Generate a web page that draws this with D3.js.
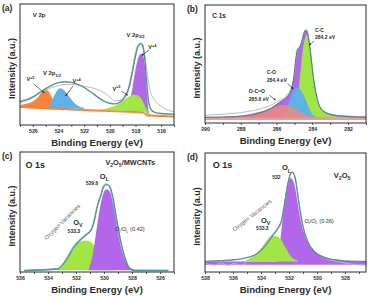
<!DOCTYPE html>
<html>
<head>
<meta charset="utf-8">
<script src="https://cdn.jsdelivr.net/npm/d3@7"></script>
<style>
  body { margin: 0; background: #fff; }
  svg { display: block; font-family: 'Liberation Sans', Arial, sans-serif; }
</style>
</head>
<body>
<svg id="chart" width="368" height="297"></svg>
<script>
const svg = d3.select('#chart')

// --------------------------------------------------------------
// Data (binding energy in eV, intensity in arbitrary units 0-100)

// (a) V 2p
const v2pTicks = [526, 524, 522, 520, 518, 516]
// [energy, low, high]
const v2pOrange = [
  [527, 14, 16.5], [526.5, 13.8, 17.5], [526, 13.5, 19.5], [525.6, 13.3, 23],
  [525.3, 13.1, 27], [525.05, 13, 29.5], [524.8, 12.9, 28], [524.55, 12.7, 23.5],
  [524.3, 12.6, 18.5], [524, 12.4, 15.5], [523.5, 12.2, 14.3], [523, 12, 13.8],
  [522, 11.6, 13.2], [521, 11.2, 12.8], [520, 10.8, 12.4], [519, 10.4, 12],
  [518, 10, 11.6], [517.4, 9.6, 11.2], [517.1, 7, 8.8], [516, 6.6, 8.2], [515, 6.2, 7.8],
]
const v2pBlue = [
  [524.8, 14.3, 14.5], [524.6, 14.2, 18], [524.35, 14.1, 24], [524.1, 14, 28.5],
  [523.85, 13.9, 30.3], [523.6, 13.8, 29], [523.3, 13.7, 25.5], [523, 13.6, 21],
  [522.7, 13.5, 17.5], [522.4, 13.4, 15.5], [522, 13.2, 14],
]
const v2pPurple = [
  [518.8, 11.8, 12], [518.5, 11.7, 18], [518.25, 11.6, 30], [518.05, 11.5, 43],
  [517.85, 11.5, 53], [517.65, 11.4, 58.5], [517.5, 11.3, 59], [517.35, 11.2, 55],
  [517.2, 10.5, 42], [517.1, 8.8, 25], [517, 8.6, 13], [516.9, 8.5, 9],
]
const v2pGreen = [
  [520.8, 12.3, 12.6], [520.3, 12.2, 13.5], [519.8, 12, 15], [519.3, 11.9, 17.5],
  [518.9, 11.8, 20.5], [518.5, 11.7, 23.5], [518.2, 11.6, 25], [517.9, 11.5, 24.8],
  [517.6, 11.4, 22.5], [517.35, 11.2, 18], [517.15, 9.5, 13], [516.95, 8.6, 10],
  [516.7, 8.5, 8.8],
]
// [energy, intensity]
const v2pRaw = [
  [527, 20], [526.5, 21.5], [526, 23.5], [525.5, 26], [525, 28.5], [524.5, 31],
  [524, 32.5], [523.5, 33.5], [523, 33.5], [522.5, 33], [522, 32], [521.5, 31],
  [521, 29.5], [520.5, 27], [520, 23], [519.6, 20], [519.2, 20.5], [518.8, 25],
  [518.5, 33], [518.25, 46], [518, 60], [517.8, 66], [517.6, 66.5], [517.4, 63],
  [517.2, 52], [517.05, 40], [516.9, 30], [516.6, 22], [516.2, 17], [515.8, 14],
  [515.4, 12], [515, 11],
]
const v2pEnvelope = [
  [527, 19], [526.5, 20.5], [526, 23], [525.5, 26.5], [525, 30], [524.5, 33],
  [524, 35], [523.5, 35.8], [523, 35.2], [522.5, 33.5], [522, 31], [521.5, 27.5],
  [521, 23.5], [520.5, 20], [520, 18], [519.6, 17.5], [519.2, 19], [518.8, 23.5],
  [518.5, 31], [518.25, 43], [518, 57], [517.8, 65], [517.6, 67.5], [517.45, 66],
  [517.3, 57], [517.15, 38], [517, 21], [516.8, 13], [516.5, 10.5], [516, 9.5], [515, 9],
]

// (b) C 1s
const c1sTicks = [290, 288, 286, 284, 282]
const c1sEnvelope = [
  [290, 4.8], [289, 5.1], [288.4, 5.4], [287.45, 6.8], [286.9, 8.8], [286.5, 11],
  [286.1, 14.4], [285.77, 18.1], [285.4, 22.3], [285.18, 28], [285.03, 39.3],
  [284.93, 53.4], [284.84, 61.9], [284.75, 63.3], [284.62, 67.5], [284.5, 74.6],
  [284.41, 78.2], [284.32, 78.2], [284.23, 73.1], [284.1, 59], [283.95, 39.2],
  [283.8, 25.2], [283.63, 15.3], [283.35, 9.6], [282.8, 6.8], [281.86, 5.4], [281, 4.8],
]
const c1sPurple = c1sEnvelope.map((d) => [d[0], 4.5, d[1]])
const c1sGreen = [
  [285.1, 4.5, 5], [284.9, 4.5, 12], [284.75, 4.5, 30], [284.62, 4.5, 50],
  [284.5, 4.5, 65], [284.4, 4.5, 72.5], [284.3, 4.5, 75], [284.2, 4.5, 71],
  [284.07, 4.5, 57], [283.92, 4.5, 39], [283.77, 4.5, 25], [283.6, 4.5, 15.5],
  [283.35, 4.5, 9.5], [283, 4.5, 6.5], [282.5, 4.5, 5.2], [282, 4.5, 4.8],
]
const c1sBlue = [
  [285.8, 4.5, 5], [285.6, 4.5, 8], [285.4, 4.5, 14], [285.2, 4.5, 22],
  [285.03, 4.5, 28.5], [284.88, 4.5, 30.2], [284.7, 4.5, 28.5], [284.5, 4.5, 24],
  [284.3, 4.5, 17], [284.1, 4.5, 10], [283.9, 4.5, 6], [283.7, 4.5, 4.8],
]
const c1sPink = [
  [290, 2.5, 5], [289, 2.5, 5.2], [288.4, 2.5, 5.8], [287.85, 2.5, 6.8],
  [287.3, 2.5, 8.2], [286.7, 2.5, 10.5], [286.3, 2.5, 12.5], [285.95, 2.5, 14.5],
  [285.6, 2.5, 15.3], [285.2, 2.5, 14], [284.84, 2.5, 11], [284.47, 2.5, 7.5],
  [284.1, 2.5, 5.5], [283.7, 2.5, 4.8], [283, 2.5, 4.6], [282, 2.5, 4.5], [281, 2.5, 4.5],
]
const c1sRaw = [
  [290, 6.5], [289.5, 7], [289, 7.3], [288.5, 8], [288, 8.8], [287.5, 10],
  [287, 11.5], [286.6, 13.5], [286.2, 16], [285.8, 19.5], [285.4, 24], [285.15, 31],
  [285, 42], [284.9, 55], [284.8, 62], [284.7, 65], [284.58, 69.5], [284.47, 76],
  [284.38, 79], [284.3, 78.5], [284.2, 72], [284.07, 57], [283.93, 38], [283.78, 24],
  [283.6, 14.5], [283.3, 9.5], [282.8, 7], [282, 5.8], [281, 5.5],
]

// (c) O 1s, V2O5/MWCNTs
const o1sCompTicks = [536, 534, 532, 530, 528, 526]
const o1sCompPurple = [
  [531.1, 1.5, 2], [530.85, 1.5, 12], [530.65, 1.5, 26], [530.45, 1.5, 42],
  [530.25, 1.5, 56], [530.05, 1.5, 65.5], [529.8, 1.5, 69], [529.55, 1.5, 66],
  [529.35, 1.5, 57], [529.15, 1.5, 44], [528.95, 1.5, 30], [528.7, 1.5, 17],
  [528.4, 1.5, 7.5], [528.1, 1.5, 3], [527.8, 1.5, 1.8],
]
const o1sCompGreen = [
  [533.3, 1.5, 2], [533, 1.5, 5], [532.7, 1.5, 10], [532.4, 1.5, 16],
  [532.1, 1.5, 21], [531.8, 1.5, 24.5], [531.5, 1.5, 26], [531.2, 1.5, 26],
  [530.9, 1.5, 24.5], [530.6, 1.5, 20], [530.3, 1.5, 13], [530, 1.5, 7],
  [529.6, 1.5, 3], [529.2, 1.5, 1.8],
]
const o1sCompEnvelope = [
  [535.7, 1.1], [533.3, 2.5], [533, 5.5], [532.6, 11.7], [532.2, 20], [531.7, 26.5],
  [531.3, 30.6], [530.9, 35.3], [530.7, 42.2], [530.5, 53.3], [530.2, 64.4],
  [530, 71.4], [529.8, 72.8], [529.6, 71.4], [529.35, 61.7], [529.15, 47.8],
  [528.85, 28.3], [528.5, 11.7], [528.2, 3.3], [527.8, 1.1], [525.4, 1.1],
]
const o1sCompRaw = [
  [535.7, 1.6], [533.3, 3], [533.1, 4.5], [532.6, 13], [532.2, 21], [531.7, 27.5],
  [531.3, 31.5], [530.9, 36.5], [530.7, 44], [530.5, 55], [530.2, 66], [530.05, 72],
  [529.85, 73.5], [529.65, 71.5], [529.4, 61], [529.2, 48], [528.9, 29], [528.5, 12.5],
  [528.2, 4], [527.8, 1.8], [525.4, 1.6],
]

// (d) O 1s, V2O5
const o1sTicks = [538, 536, 534, 532, 530, 528]
const o1sPurple = [
  [538, 6.1, 8.9], [535, 6.1, 8.9], [533, 6.1, 8.9], [532.77, 6.1, 9],
  [532.65, 6.1, 22.8], [532.48, 6.1, 42.2], [532.29, 6.1, 61.7], [532.12, 6.1, 74.2],
  [531.93, 6.1, 78.9], [531.76, 6.1, 77.8], [531.57, 6.1, 71.4], [531.38, 6.1, 57.5],
  [531.17, 6.1, 43.6], [530.93, 6.1, 32.5], [530.62, 6.1, 24.2], [530.14, 6.1, 17.2],
  [529.55, 6.1, 13.1], [528.6, 6.1, 10.3], [527.5, 6.1, 9.2], [526.5, 6.1, 8.9],
]
const o1sGreen = [
  [535.1, 8.9, 9.5], [534.6, 8.9, 13.1], [534.24, 8.9, 16.7], [533.88, 8.9, 21.4],
  [533.52, 8.9, 27], [533.24, 8.9, 30], [533, 8.9, 30.5], [532.77, 8.9, 29.5],
  [532.53, 8.9, 26.5], [532.22, 8.9, 20], [531.86, 8.9, 13.1], [531.38, 8.9, 9.6],
]
const o1sEnvelope = [
  [538, 8.9], [535.9, 10.3], [534.96, 12.2], [534.24, 15.8], [533.64, 22.8],
  [533.17, 30.6], [532.8, 36.7], [532.53, 43.6], [532.34, 56.1], [532.1, 72.8],
  [531.9, 82.5], [531.74, 83.9], [531.55, 78.3], [531.31, 58.9], [531.03, 39.4],
  [530.67, 25.6], [530.19, 17.2], [529.48, 12.2], [528.05, 9.4], [526.5, 8.9],
]
const o1sRaw = [
  [538, 7.5], [537.33, 5.6], [536.86, 7.8], [536.38, 5.3], [535.9, 7.2], [535.43, 5.6],
  [534.96, 8.9], [534.48, 12.8], [534, 18.6], [533.64, 25.6], [533.29, 30.6],
  [532.93, 33.9], [532.57, 40.8], [532.34, 54.7], [532.1, 72.2], [531.9, 81.7],
  [531.72, 83.3], [531.53, 77.8], [531.26, 57.5], [530.98, 38.1], [530.62, 24.7],
  [530.14, 16.7], [529.48, 11.7], [528.6, 8.9], [527.6, 6.7], [526.5, 5.6],
]

// --------------------------------------------------------------
// Colours
const orange = '#f7833d'
const blue = '#5fb1ea'
const green = '#a0e743'
const purple = '#b267ea'
const pink = '#ec8a84'
const envColor = '#4f9593'
const rawColor = '#bcbcbc'
const ink = '#2b2b2b'

// --------------------------------------------------------------
// Panel frame, axis and labels
const drawPanel = function ({ id, box, domain, ticks, letter, yText }) {
  const x = d3.scaleLinear().domain(domain).range([box.left, box.right])
  const y = d3.scaleLinear().domain([0, 100]).range([box.bottom, box.top])
  const g = svg.append('g').attr('class', 'panel-' + id)

  svg
    .append('clipPath')
    .attr('id', 'clip-' + id)
    .append('rect')
    .attr('x', box.left)
    .attr('y', box.top)
    .attr('width', box.right - box.left)
    .attr('height', box.bottom - box.top)

  const plot = g.append('g').attr('clip-path', 'url(#clip-' + id + ')')

  // every 1 eV a small tick, labels at the listed values
  const lo = Math.ceil(Math.min(...domain))
  const hi = Math.floor(Math.max(...domain))
  const minor = d3.range(lo, hi + 1)

  const axis = g
    .append('g')
    .attr('transform', 'translate(0,' + box.bottom + ')')
    .call(
      d3
        .axisBottom(x)
        .tickValues(minor)
        .tickSize(2)
        .tickPadding(2)
        .tickFormat((d) => (ticks.includes(d) ? d : ''))
    )
  axis.select('.domain').remove()
  axis.selectAll('line').attr('stroke', ink).attr('stroke-width', 0.8)
  axis
    .selectAll('text')
    .attr('font-size', 5.2)
    .attr('font-weight', 'bold')
    .attr('fill', ink)

  g.append('text')
    .attr('x', (box.left + box.right) / 2)
    .attr('y', box.bottom + 20.5)
    .attr('text-anchor', 'middle')
    .attr('font-size', 9.6)
    .attr('font-weight', 'bold')
    .attr('fill', ink)
    .text('Binding Energy (eV)')

  g.append('text')
    .attr(
      'transform',
      'translate(' + (box.left - 5.5) + ',' + ((box.top + box.bottom) / 2 + 4) + ') rotate(-90)'
    )
    .attr('text-anchor', 'middle')
    .attr('font-size', 9)
    .attr('font-weight', 'bold')
    .attr('fill', ink)
    .text(yText)

  g.append('text')
    .attr('x', box.left - 18)
    .attr('y', box.top + 7)
    .attr('font-size', 8.5)
    .attr('font-weight', 'bold')
    .attr('fill', ink)
    .text(letter)

  return { g, plot, x, y, box }
}

const drawAreas = function (p, list) {
  const area = d3
    .area()
    .x((d) => p.x(d[0]))
    .y0((d) => p.y(d[1]))
    .y1((d) => p.y(d[2]))
    .curve(d3.curveMonotoneX)
  list.forEach(({ data, fill, opacity = 1 }) => {
    p.plot
      .append('path')
      .datum(data)
      .attr('d', area)
      .attr('fill', fill)
      .attr('fill-opacity', opacity)
  })
}

const drawLine = function (p, data, stroke, width) {
  const line = d3
    .line()
    .x((d) => p.x(d[0]))
    .y((d) => p.y(d[1]))
    .curve(d3.curveMonotoneX)
  p.plot
    .append('path')
    .datum(data)
    .attr('d', line)
    .attr('fill', 'none')
    .attr('stroke', stroke)
    .attr('stroke-width', width)
}

const drawFrame = function (p) {
  p.g
    .append('rect')
    .attr('x', p.box.left)
    .attr('y', p.box.top)
    .attr('width', p.box.right - p.box.left)
    .attr('height', p.box.bottom - p.box.top)
    .attr('fill', 'none')
    .attr('stroke', ink)
    .attr('stroke-width', 1)
}

// text with sub / superscripts: parts = [[text, 'sub' | 'sup' | '']]
const label = function (p, e, v, parts, { size = 5.5, weight = 'bold', fill = ink, rotate = 0 } = {}) {
  const t = p.g
    .append('text')
    .attr('transform', 'translate(' + p.x(e) + ',' + p.y(v) + ') rotate(' + rotate + ')')
    .attr('font-size', size)
    .attr('font-weight', weight)
    .attr('fill', fill)
  let shift = 0
  parts.forEach(([txt, kind]) => {
    const target = kind === 'sub' ? size * 0.3 : kind === 'sup' ? -size * 0.4 : 0
    t.append('tspan')
      .attr('dy', target - shift)
      .attr('font-size', kind ? size * 0.7 : size)
      .text(txt)
    shift = target
  })
  return t
}

const arrow = function (p, e1, v1, e2, v2) {
  const x1 = p.x(e1)
  const y1 = p.y(v1)
  const x2 = p.x(e2)
  const y2 = p.y(v2)
  const a = Math.atan2(y2 - y1, x2 - x1)
  const h = 2.2
  p.g
    .append('line')
    .attr('x1', x1)
    .attr('y1', y1)
    .attr('x2', x2)
    .attr('y2', y2)
    .attr('stroke', '#111')
    .attr('stroke-width', 0.6)
  p.g
    .append('path')
    .attr(
      'd',
      'M' + x2 + ',' + y2 +
        'L' + (x2 - h * Math.cos(a - 0.45)) + ',' + (y2 - h * Math.sin(a - 0.45)) +
        'L' + (x2 - h * Math.cos(a + 0.45)) + ',' + (y2 - h * Math.sin(a + 0.45)) + 'Z'
    )
    .attr('fill', '#111')
}

// --------------------------------------------------------------
// (a) V 2p
const pa = drawPanel({
  id: 'a',
  box: { left: 20, right: 174, top: 4, bottom: 125 },
  domain: [527, 515],
  ticks: v2pTicks,
  letter: '(a)',
  yText: 'Intensity (a.u.)',
})
drawAreas(pa, [
  { data: v2pOrange, fill: orange },
  { data: v2pBlue, fill: blue },
  { data: v2pPurple, fill: purple },
  { data: v2pGreen, fill: green },
])
drawLine(pa, v2pRaw, rawColor, 1)
drawLine(pa, v2pEnvelope, envColor, 1.4)
drawFrame(pa)
label(pa, 526, 89, [['V 2p', '']], { size: 6 })
label(pa, 518.7, 73, [['V 2p', ''], ['3/2', 'sub']], { size: 5.8 })
label(pa, 517, 62.5, [['V', ''], ['+4', 'sup']], { size: 5.5 })
arrow(pa, 516.95, 62, 517.5, 57.5)
label(pa, 525.2, 41, [['V 2p', ''], ['1/2', 'sub']], { size: 5.8 })
label(pa, 526.5, 36, [['V', ''], ['+5', 'sup']], { size: 5.5 })
arrow(pa, 525.95, 34, 525.1, 26.5)
label(pa, 522.9, 34.5, [['V', ''], ['+4', 'sup']], { size: 5.5 })
arrow(pa, 522.85, 32.5, 523.45, 24)
label(pa, 519.8, 28.5, [['V', ''], ['+5', 'sup']], { size: 5.5 })
arrow(pa, 519.1, 28, 518.6, 24.5)

// --------------------------------------------------------------
// (b) C 1s
const pb = drawPanel({
  id: 'b',
  box: { left: 205, right: 366, top: 5, bottom: 123 },
  domain: [290, 281],
  ticks: c1sTicks,
  letter: '(b)',
  yText: 'Intensity (a.u.)',
})
drawAreas(pb, [
  { data: c1sPurple, fill: purple },
  { data: c1sGreen, fill: green },
  { data: c1sBlue, fill: blue },
  { data: c1sPink, fill: pink, opacity: 0.85 },
])
drawLine(pb, c1sRaw, rawColor, 1)
drawLine(pb, c1sEnvelope, '#557f8c', 1.1)
drawFrame(pb)
label(pb, 289.6, 89, [['C 1s', '']], { size: 6.5 })
label(pb, 283.85, 77.5, [['C-C', '']], { size: 5 })
label(pb, 283.85, 71, [['284.2 eV', '']], { size: 5 })
arrow(pb, 283.9, 69.5, 284.18, 66)
label(pb, 286.55, 41.5, [['C-O', '']], { size: 5 })
label(pb, 286.55, 35, [['284.4 eV', '']], { size: 5 })
arrow(pb, 285.38, 33.5, 285.06, 28.8)
label(pb, 287.55, 25.5, [['O-C=O', '']], { size: 5 })
label(pb, 287.55, 19, [['285.6 eV', '']], { size: 5 })
arrow(pb, 286.4, 23.5, 286.05, 19.2)

// --------------------------------------------------------------
// (c) O 1s, V2O5/MWCNTs
const pc = drawPanel({
  id: 'c',
  box: { left: 20, right: 174, top: 152, bottom: 272 },
  domain: [536, 525],
  ticks: o1sCompTicks,
  letter: '(c)',
  yText: 'Intensity (a.u.)',
})
drawAreas(pc, [
  { data: o1sCompGreen, fill: green },
  { data: o1sCompPurple, fill: purple },
])
drawLine(pc, o1sCompRaw, '#8fb9b8', 1)
drawLine(pc, o1sCompEnvelope, envColor, 1.3)
drawFrame(pc)
label(pc, 535.6, 87, [['O 1s', '']], { size: 9 })
label(pc, 529.9, 89, [['V', ''], ['2', 'sub'], ['O', ''], ['5', 'sub'], ['/MWCNTs', '']], { size: 7.3 })
label(pc, 530.3, 77.5, [['O', ''], ['L', 'sub']], { size: 7.5 })
label(pc, 531.3, 72.5, [['529.6', '']], { size: 5 })
label(pc, 532.2, 39, [['O', ''], ['V', 'sub']], { size: 7.5 })
label(pc, 532.6, 32.5, [['533.3', '']], { size: 5 })
label(pc, 529.2, 34.2, [['O', ''], ['i', 'sub'], ['/O', ''], ['L', 'sub'], [' (0.42)', '']], { size: 5.6, weight: 'normal' })
label(pc, 534.1, 26.5, [['Oxygen Vacancies', '']], { size: 5.8, weight: 'normal', fill: '#666', rotate: -45 })

// --------------------------------------------------------------
// (d) O 1s, V2O5
const pd = drawPanel({
  id: 'd',
  box: { left: 205, right: 366, top: 153, bottom: 272 },
  domain: [538, 526.5],
  ticks: o1sTicks,
  letter: '(d)',
  yText: 'Intensity (a.u)',
})
drawAreas(pd, [
  { data: o1sPurple, fill: purple },
  { data: o1sGreen, fill: green },
])
drawLine(pd, o1sRaw, rawColor, 0.9)
drawLine(pd, o1sEnvelope, envColor, 1.3)
drawFrame(pd)
label(pd, 537.45, 87.5, [['O 1s', '']], { size: 9 })
label(pd, 528.8, 79, [['V', ''], ['2', 'sub'], ['O', ''], ['5', 'sub']], { size: 7.5 })
label(pd, 532.5, 85.5, [['O', ''], ['L', 'sub']], { size: 7.5 })
label(pd, 533.2, 78.3, [['532', '']], { size: 5 })
label(pd, 534, 41.5, [['O', ''], ['V', 'sub']], { size: 7.5 })
label(pd, 534.35, 35.5, [['533.3', '']], { size: 5 })
label(pd, 530.9, 41.5, [['O', ''], ['i', 'sub'], ['/O', ''], ['L', 'sub'], [' (0.36)', '']], { size: 5.6, weight: 'normal' })
label(pd, 535.9, 34, [['Oxygen Vacancies', '']], { size: 5.8, weight: 'normal', fill: '#666', rotate: -38 })
</script>
</body>
</html>
